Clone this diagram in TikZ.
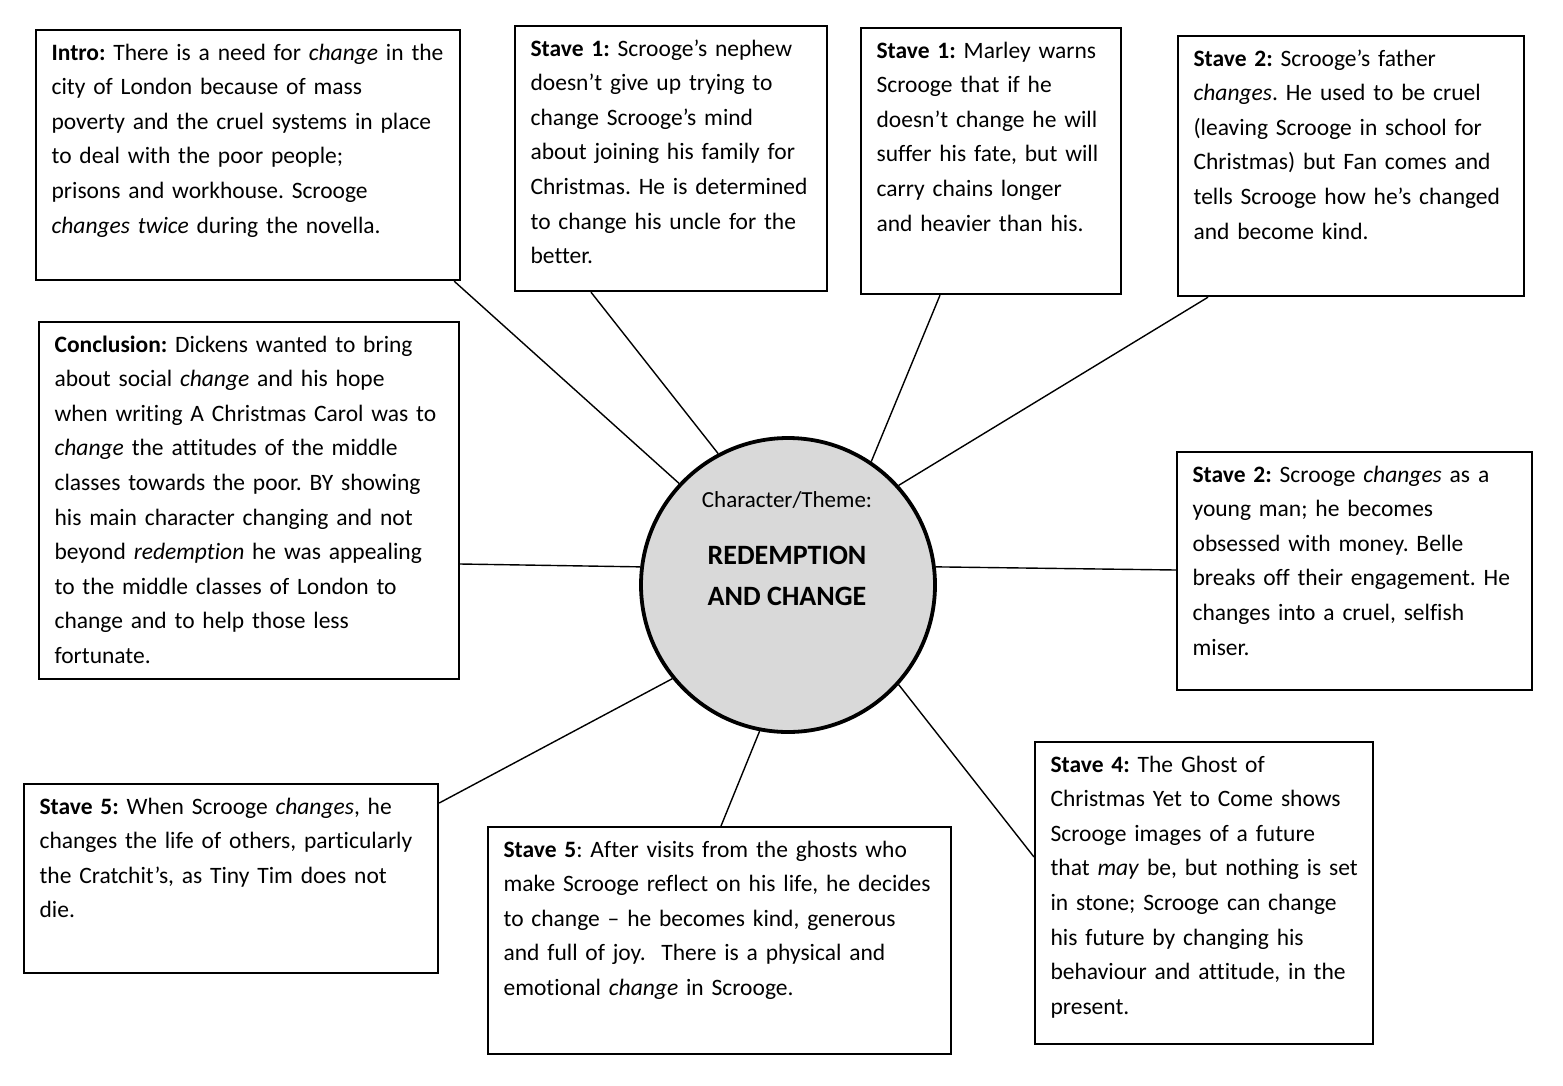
\documentclass[tikz,border=0pt]{standalone}
\usepackage{fontspec}
\setmainfont{Carlito}[Ligatures={NoCommon}]
\usetikzlibrary{calc}
\frenchspacing
\newcommand\bodyfont{\fontsize{23.5}{34.6}\selectfont}
\newcommand\fitlines{\raggedright\rightskip=0pt plus 1fil minus 60pt\relax}
\begin{document}
\begin{tikzpicture}[x=1pt,y=-1pt,
  box/.style={draw, line width=2.2pt, anchor=north west, inner xsep=15.5pt, inner ysep=0pt,
    text height=30pt, font=\bodyfont},
  link/.style={line width=1.4pt},
  hub/.style={circle, draw, line width=3.8pt, fill=hubgray, minimum size=294pt, inner sep=0pt}]
\definecolor{hubgray}{HTML}{D9D9D9}
\fill[white] (0,0) rectangle (1563,1085);
\useasboundingbox (0,0) rectangle (1563,1085);

\node[hub] (c) at (788,585) {};
\node[anchor=base, inner sep=0pt, font=\fontsize{23}{34.6}\selectfont] (ct) at (787,507) {Character/Theme:};
\node[anchor=base, inner sep=0pt, font=\fontsize{28}{41}\selectfont\bfseries] (cm1) at (787,564) {REDEMPTION};
\node[anchor=base, inner sep=0pt, font=\fontsize{28}{41}\selectfont\bfseries] (cm2) at (787,605) {AND CHANGE};

\node[box, text width=393pt, text depth=220pt] (intro) at (35,29)
{\fitlines\textbf{Intro:} There is a need for \textit{change} in the\\
city of London because of mass\\
poverty and the cruel systems in place\\
to deal with the poor people;\\
prisons and workhouse. Scrooge\\
\textit{changes twice} during the novella.};

\node[box, text width=281pt, text depth=235pt] (nephew) at (514,25)
{\fitlines\textbf{Stave 1:} Scrooge’s nephew\\
doesn’t give up trying to\\
change Scrooge’s mind\\
about joining his family for\\
Christmas. He is determined\\
to change his uncle for the\\
better.};

\node[box, text width=229pt, text depth=236pt] (marley) at (860,27)
{\fitlines\textbf{Stave 1:} Marley warns\\
Scrooge that if he\\
doesn’t change he will\\
suffer his fate, but will\\
carry chains longer\\
and heavier than his.};

\node[box, text width=315pt, text depth=230pt] (father) at (1177,35)
{\fitlines\textbf{Stave 2:} Scrooge’s father\\
\textit{changes}. He used to be cruel\\
(leaving Scrooge in school for\\
Christmas) but Fan comes and\\
tells Scrooge how he’s changed\\
and become kind.};

\node[box, text width=389pt, text depth=327pt] (concl) at (38,321)
{\fitlines\textbf{Conclusion:} Dickens wanted to bring\\
about social \textit{change} and his hope\\
when writing A Christmas Carol was to\\
\textit{change} the attitudes of the middle\\
classes towards the poor. BY showing\\
his main character changing and not\\
beyond \textit{redemption} he was appealing\\
to the middle classes of London to\\
change and to help those less\\
fortunate.};

\node[box, text width=324pt, text depth=208pt] (young) at (1176,451)
{\fitlines\textbf{Stave 2:} Scrooge \textit{changes} as a\\
young man; he becomes\\
obsessed with money. Belle\\
breaks off their engagement. He\\
changes into a cruel, selfish\\
miser.};

\node[box, text width=383pt, text depth=159pt] (sfivel) at (23,783)
{\fitlines\textbf{Stave 5:} When Scrooge \textit{changes}, he\\
changes the life of others, particularly\\
the Cratchit’s, as Tiny Tim does not\\
die.};

\node[box, text width=432pt, text depth=197pt] (sfivem) at (487,826)
{\fitlines\textbf{Stave 5}: After visits from the ghosts who\\
make Scrooge reflect on his life, he decides\\
to change – he becomes kind, generous\\
and full of joy.\ \ There is a physical and\\
emotional \textit{change} in Scrooge.};

\node[box, text width=307pt, text depth=272pt] (sfour) at (1034,741)
{\fitlines\textbf{Stave 4:} The Ghost of\\
Christmas Yet to Come shows\\
Scrooge images of a future\\
that \textit{may} be, but nothing is set\\
in stone; Scrooge can change\\
his future by changing his\\
behaviour and attitude, in the\\
present.};

\draw[link] ([xshift=-7pt]intro.south east) -- (c.137);
\draw[link] ([xshift=77pt]nephew.south west) -- (c.118);
\draw[link] ([xshift=80pt]marley.south west) -- (c.56);
\draw[link] ([xshift=31pt]father.south west) -- (c.42);
\draw[link] ([yshift=-243pt]concl.north east) -- (c.173);
\draw[link] ([yshift=-119pt]young.north west) -- (c.7);
\draw[link] ([yshift=-20pt]sfivel.north east) -- (c.219);
\draw[link] ([xshift=234pt]sfivem.north west) -- (c.259);
\draw[link] ([yshift=-116pt]sfour.north west) -- (c.318);
\end{tikzpicture}
\end{document}
